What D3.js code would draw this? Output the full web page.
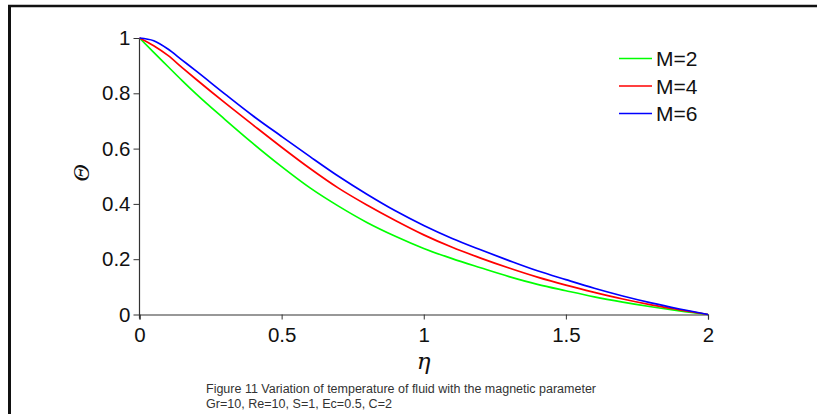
<!DOCTYPE html>
<html>
<head>
<meta charset="utf-8">
<script src="https://cdn.jsdelivr.net/npm/d3@7"></script>
<style>
  html, body { margin: 0; padding: 0; background: #fff; }
  svg { display: block; }
</style>
</head>
<body>
<svg id="chart" width="817" height="414"></svg>
<script>
// Dimensionless distance η
const eta = [0, 0.05, 0.1, 0.15, 0.2, 0.3, 0.4, 0.5, 0.6, 0.7, 0.8, 0.9, 1.0,
             1.1, 1.2, 1.3, 1.4, 1.5, 1.6, 1.7, 1.8, 1.9, 2.0];

// Temperature profiles Θ(η) for each magnetic parameter M
const thetaM2 = [1.000, 0.948, 0.897, 0.846, 0.797, 0.706, 0.618, 0.535, 0.458, 0.392, 0.333, 0.283, 0.239,
                 0.202, 0.169, 0.137, 0.109, 0.086, 0.064, 0.045, 0.028, 0.013, 0.000];
const thetaM4 = [1.000, 0.972, 0.937, 0.893, 0.850, 0.766, 0.685, 0.605, 0.528, 0.457, 0.396, 0.340, 0.288,
                 0.243, 0.204, 0.168, 0.135, 0.106, 0.080, 0.056, 0.035, 0.017, 0.000];
const thetaM6 = [1.000, 0.990, 0.960, 0.920, 0.880, 0.798, 0.718, 0.644, 0.571, 0.500, 0.435, 0.375, 0.322,
                 0.275, 0.234, 0.195, 0.158, 0.126, 0.095, 0.067, 0.042, 0.020, 0.000];

const seriesNames = ["M=2", "M=4", "M=6"];
const seriesColors = ["#00ff00", "#ff0000", "#0000ff"];

const xTicks = [0, 0.5, 1, 1.5, 2];
const yTicks = [0, 0.2, 0.4, 0.6, 0.8, 1];

const captionLines = [
  "Figure 11 Variation of temperature of fluid with the magnetic parameter",
  "Gr=10, Re=10, S=1, Ec=0.5, C=2"
];

const svg = d3.select("#chart");

// Outer frame (top and left edges)
svg.append("line").attr("x1", 8).attr("x2", 817).attr("y1", 6).attr("y2", 6)
  .attr("stroke", "#111").attr("stroke-width", 2.5);
svg.append("line").attr("x1", 9.5).attr("x2", 9.5).attr("y1", 5).attr("y2", 414)
  .attr("stroke", "#111").attr("stroke-width", 3);

const x = d3.scaleLinear().domain([0, 2]).range([139.5, 708]);
const y = d3.scaleLinear().domain([0, 1]).range([314.5, 38]);

const axisFont = "'Liberation Sans', Arial, sans-serif";

// x axis
const gx = svg.append("g").attr("transform", `translate(0,${y(0)})`)
  .call(d3.axisBottom(x).tickValues(xTicks).tickFormat(d3.format("")).tickSize(5).tickPadding(7.5));
// y axis
const gy = svg.append("g").attr("transform", `translate(${x(0)},0)`)
  .call(d3.axisLeft(y).tickValues(yTicks).tickFormat(d3.format("")).tickSize(6).tickPadding(3));

[gx, gy].forEach(g => {
  g.select(".domain").attr("stroke", "#333").attr("stroke-width", 1.2);
  g.selectAll(".tick line").attr("stroke", "#333");
  g.selectAll(".tick text").attr("fill", "#111").style("font-family", axisFont).style("font-size", "20.5px");
});
gy.select(".domain").attr("d", `M0,${y(1)}V${y(0) + 4}`);

// Curves
const data = [thetaM2, thetaM4, thetaM6];
const line = d3.line().x((d, i) => x(eta[i])).y(d => y(d)).curve(d3.curveMonotoneX);
svg.append("g").selectAll("path").data(data).join("path")
  .attr("d", d => line(d))
  .attr("fill", "none")
  .attr("stroke", (d, i) => seriesColors[i])
  .attr("stroke-width", 1.7);

// Legend
const legend = svg.append("g");
seriesNames.forEach((name, i) => {
  const cy = 58.5 + i * 27.5;
  legend.append("line").attr("x1", 619).attr("x2", 652).attr("y1", cy).attr("y2", cy)
    .attr("stroke", seriesColors[i]).attr("stroke-width", 1.7);
  legend.append("text").attr("x", 656).attr("y", cy + 7.5)
    .attr("fill", "#111").style("font-family", axisFont).style("font-size", "21px")
    .text(name);
});

// Axis titles
svg.append("text").attr("x", x(1)).attr("y", 369)
  .attr("text-anchor", "middle")
  .style("font-family", "'DejaVu Serif', 'Liberation Serif', serif")
  .style("font-style", "italic").style("font-size", "23px").attr("fill", "#111")
  .text("η");

svg.append("text")
  .attr("transform", "translate(89,173) rotate(-90)")
  .attr("text-anchor", "middle")
  .style("font-family", "'Liberation Serif', serif")
  .style("font-style", "italic").style("font-size", "24px").attr("fill", "#111")
  .text("Θ");

// Caption
const capWidths = [390, 186];
captionLines.forEach((t, i) => {
  svg.append("text").attr("x", 206).attr("y", 393 + i * 14.5)
    .attr("fill", "#333")
    .style("font-family", axisFont).style("font-size", "12.5px")
    .attr("textLength", capWidths[i]).attr("lengthAdjust", "spacingAndGlyphs")
    .text(t);
});
</script>
</body>
</html>
